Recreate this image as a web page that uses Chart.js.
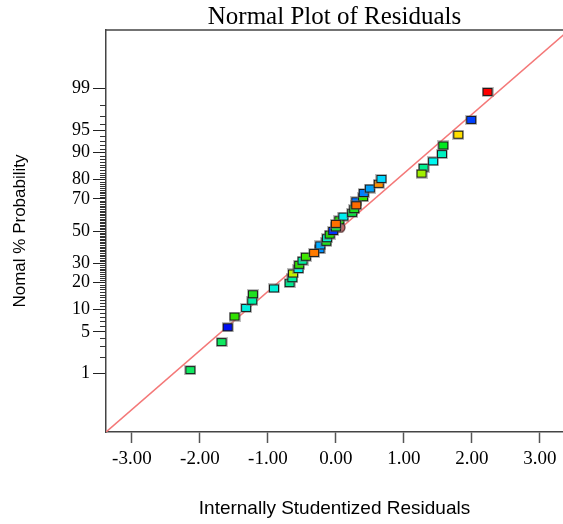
<!DOCTYPE html>
<html>
<head>
<meta charset="utf-8">
<script src="https://cdn.jsdelivr.net/npm/chart.js@4/dist/chart.umd.min.js"></script>
<style>
html,body{margin:0;padding:0;background:#fff;overflow:hidden;}
#wrap{width:563px;height:524px;}
</style>
</head>
<body>
<div id="wrap"><canvas id="c" width="563" height="524"></canvas></div>
<script>
// ---------- data ----------
const chartTitle = "Normal Plot of Residuals";
const xAxisTitle = "Internally Studentized Residuals";
const yAxisTitle = "Nomal % Probability";

// internally studentized residuals (drawing order)
const residuals = [-2.14,-1.68,-1.59,-1.49,-1.32,-1.23,-1.22,-0.91,-0.68,-0.64,-0.63,-0.55,-0.54,-0.49,-0.44,
  -0.24,-0.23,-0.14,-0.13,-0.09,-0.04,0.00,0.05,0.11,0.24,0.27,0.30,0.40,0.41,0.50,0.63,0.67,
  1.29,1.43,1.56,1.58,1.80,1.99,2.23,-0.32,0.00,0.30,1.26];
// normal % probability of each residual
const probability = [1.16,3.49,5.81,8.14,10.47,12.79,15.12,17.44,19.77,22.09,24.42,26.74,29.07,31.40,33.72,
  38.37,40.70,43.02,45.35,47.67,50.00,52.33,56.98,59.30,61.63,63.95,68.60,70.93,73.26,75.58,77.91,80.23,
  84.88,87.21,89.53,91.86,94.19,96.51,98.84,36.05,54.65,66.28,82.56];
// highlighted point (circle)
const highlightResidual = [0.06];
const highlightProbability = [52.3];
// fitted normal line (residual, normal score)
const lineResidual = [-3.38, 3.45];
const lineScore = [-3.28, 3.30];
// axis ticks
const xTickValues = [-3, -2, -1, 0, 1, 2, 3];
const yMajorPct = [1, 5, 10, 20, 30, 50, 70, 80, 90, 95, 99];
const yMinorPct = [2,3,4,6,7,8,9,11,12,13,14,15,16,17,18,19,21,22,23,24,25,26,27,28,29,31,32,33,34,35,36,37,38,39,
  40,41,42,43,44,45,46,47,48,49,51,52,53,54,55,56,57,58,59,60,61,62,63,64,65,66,67,68,69,71,72,73,74,75,76,77,78,79,
  81,82,83,84,85,86,87,88,89,91,92,93,94,96,97,98];
const xRange = [-3.38, 3.34];
const yScoreRange = [-3.28, 3.28];

// marker colours (same order as residuals)
const pointColors = ['#10e860','#10e860','#0010f0','#30e000','#00f0e0','#00f0a8','#20e020','#00f0d8','#00e890','#00f0a0',
  '#c0f000','#00f0f0','#30e000','#00f0a0','#40e800','#0090ff','#00aaff','#20e020','#00f0d0','#20e000','#0030ff',
  '#20e040','#20e800','#00f0f0','#10e040','#20e020','#0070ff','#30e800','#0080ff','#00a0f8','#ff9000','#00d8ff',
  '#00f090','#00f8f0','#00f0c0','#00e820','#ffe000','#0040ff','#ff0000','#ff7a00','#ff7000','#ff6a00','#a0f000'];

// ---------- helpers ----------
function probit(p){
  const a=[-3.969683028665376e+01,2.209460984245205e+02,-2.759285104469687e+02,1.383577518672690e+02,-3.066479806614716e+01,2.506628277459239e+00];
  const b=[-5.447609879822406e+01,1.615858368580409e+02,-1.556989798598866e+02,6.680131188771985e+01,-1.328068155288572e+01];
  const c=[-7.784894002430293e-03,-3.223964580411365e-01,-2.400758277161838e+00,-2.549732539343734e+00,4.374664141464968e+00,2.938163982698783e+00];
  const d=[7.784695709041462e-03,3.224671290700398e-01,2.445134137142996e+00,3.754408661907416e+00];
  const pl=0.02425, ph=1-pl; let q,r;
  if(p<pl){q=Math.sqrt(-2*Math.log(p));return (((((c[0]*q+c[1])*q+c[2])*q+c[3])*q+c[4])*q+c[5])/((((d[0]*q+d[1])*q+d[2])*q+d[3])*q+1);}
  if(p<=ph){q=p-0.5;r=q*q;return (((((a[0]*r+a[1])*r+a[2])*r+a[3])*r+a[4])*r+a[5])*q/(((((b[0]*r+b[1])*r+b[2])*r+b[3])*r+b[4])*r+1);}
  q=Math.sqrt(-2*Math.log(1-p));return -(((((c[0]*q+c[1])*q+c[2])*q+c[3])*q+c[4])*q+c[5])/((((d[0]*q+d[1])*q+d[2])*q+d[3])*q+1);
}
function makeSquare(color){
  const cv=document.createElement('canvas'); cv.width=12; cv.height=10;
  const g=cv.getContext('2d');
  g.fillStyle='rgba(110,110,110,0.45)'; g.fillRect(0,0,12,10);
  g.fillStyle='#1a1a1a'; g.fillRect(1,1,10,8);
  g.fillStyle=color; g.fillRect(2,2,8,6);
  return cv;
}
function makeCircle(color){
  const cv=document.createElement('canvas'); cv.width=12; cv.height=12;
  const g=cv.getContext('2d');
  g.beginPath(); g.arc(6,6,5,0,Math.PI*2); g.fillStyle=color; g.fill();
  g.lineWidth=1.2; g.strokeStyle='#553333'; g.stroke();
  return cv;
}
const squareImgs = pointColors.map(makeSquare);

const pts = residuals.map((r,i)=>({x:r, y:probit(probability[i]/100)}));
const hiPts = highlightResidual.map((r,i)=>({x:r, y:probit(highlightProbability[i]/100)}));
const linePts = lineResidual.map((r,i)=>({x:r, y:lineScore[i]}));

const SERIF = "'Liberation Serif', 'Times New Roman', serif";
const SANS = "'Liberation Sans', Arial, sans-serif";

const extras = {
  id:'extras',
  afterDraw(chart){
    const ctx=chart.ctx, ca=chart.chartArea, ys=chart.scales.y;
    ctx.save();
    // top border
    ctx.strokeStyle='#444'; ctx.lineWidth=1.5;
    ctx.beginPath(); ctx.moveTo(ca.left, ca.top); ctx.lineTo(ca.right+2, ca.top); ctx.stroke();
    // minor ticks
    ctx.strokeStyle='#333'; ctx.lineWidth=1;
    yMinorPct.forEach(p=>{
      const y=Math.round(ys.getPixelForValue(probit(p/100)))+0.5;
      ctx.beginPath(); ctx.moveTo(ca.left-6, y); ctx.lineTo(ca.left, y); ctx.stroke();
    });
    // title
    ctx.fillStyle='#000'; ctx.font="25px "+SERIF; ctx.textAlign='center'; ctx.textBaseline='alphabetic';
    ctx.fillText(chartTitle, (ca.left+ca.right)/2, 24);
    ctx.restore();
  }
};

new Chart(document.getElementById('c'), {
  type:'scatter',
  data:{datasets:[
    {type:'line', data:linePts, borderColor:'#f47878', borderWidth:1.6, pointRadius:0, fill:false, order:3},
    {data:hiPts, pointStyle:makeCircle('#c06868'), pointRadius:6, order:2},
    {data:pts, pointStyle:(c)=>squareImgs[c.dataIndex], pointRadius:6, order:0}
  ]},
  options:{
    responsive:false, animation:false,
    layout:{autoPadding:false, padding:{top:30,right:0,bottom:0,left:0}},
    plugins:{legend:{display:false}, tooltip:{enabled:false}, title:{display:false}},
    scales:{
      x:{
        type:'linear', min:xRange[0], max:xRange[1],
        afterBuildTicks:(s)=>{ s.ticks = xTickValues.map(v=>({value:v})); },
        afterFit:(s)=>{ s.height = 92; s.paddingLeft = 0; s.paddingRight = 0; },
        ticks:{callback:(v)=>Number(v).toFixed(2), font:{family:SERIF,size:19}, color:'#000', padding:5, maxRotation:0, autoSkip:false},
        grid:{drawOnChartArea:false, drawTicks:true, tickLength:11, tickColor:'#555', tickWidth:1.5},
        border:{display:true, color:'#444', width:1.5},
        title:{display:true, text:xAxisTitle, font:{family:SANS,size:19}, color:'#000', padding:{top:0,bottom:4}}
      },
      y:{
        type:'linear', min:yScoreRange[0], max:yScoreRange[1],
        afterBuildTicks:(s)=>{ s.ticks = yMajorPct.map(p=>({value:probit(p/100)})); },
        afterFit:(s)=>{ s.width = 106; s.paddingTop = 0; s.paddingBottom = 0; },
        ticks:{callback:(v,i)=>String(yMajorPct[i]), font:{family:SERIF,size:18}, color:'#000', padding:3, autoSkip:false},
        grid:{drawOnChartArea:false, drawTicks:true, tickLength:13, tickColor:'#222', tickWidth:1},
        border:{display:true, color:'#444', width:1.5},
        title:{display:true, text:yAxisTitle, font:{family:SANS,size:17}, color:'#000', padding:{top:10,bottom:0}}
      }
    }
  },
  plugins:[extras]
});
</script>
</body>
</html>
